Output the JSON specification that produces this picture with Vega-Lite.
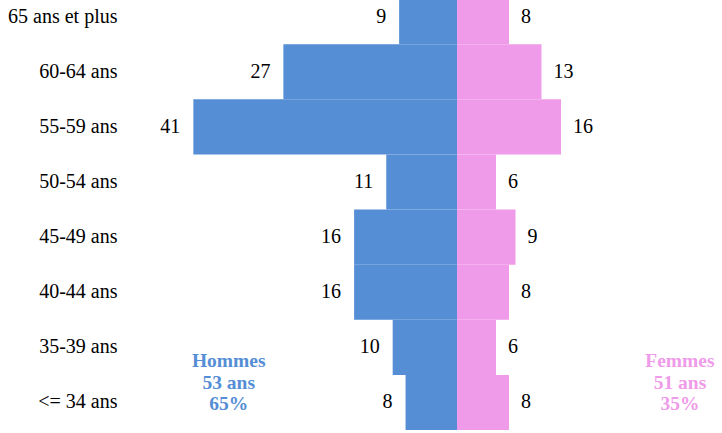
{
  "$schema": "https://vega.github.io/schema/vega-lite/v6.json",
  "width": 722,
  "height": 433,
  "autosize": "none",
  "padding": 0,
  "background": "white",
  "config": {"view": {"stroke": null}, "font": "Liberation Serif"},
  "data": {
    "values": [
      {"age": "65 ans et plus", "sex": "Hommes", "value": 9},
      {"age": "60-64 ans", "sex": "Hommes", "value": 27},
      {"age": "55-59 ans", "sex": "Hommes", "value": 41},
      {"age": "50-54 ans", "sex": "Hommes", "value": 11},
      {"age": "45-49 ans", "sex": "Hommes", "value": 16},
      {"age": "40-44 ans", "sex": "Hommes", "value": 16},
      {"age": "35-39 ans", "sex": "Hommes", "value": 10},
      {"age": "<= 34 ans", "sex": "Hommes", "value": 8},
      {"age": "65 ans et plus", "sex": "Femmes", "value": 8},
      {"age": "60-64 ans", "sex": "Femmes", "value": 13},
      {"age": "55-59 ans", "sex": "Femmes", "value": 16},
      {"age": "50-54 ans", "sex": "Femmes", "value": 6},
      {"age": "45-49 ans", "sex": "Femmes", "value": 9},
      {"age": "40-44 ans", "sex": "Femmes", "value": 8},
      {"age": "35-39 ans", "sex": "Femmes", "value": 6},
      {"age": "<= 34 ans", "sex": "Femmes", "value": 8}
    ]
  },
  "encoding": {
    "y": {
      "field": "age",
      "type": "nominal",
      "sort": ["65 ans et plus", "60-64 ans", "55-59 ans", "50-54 ans", "45-49 ans", "40-44 ans", "35-39 ans", "<= 34 ans"],
      "scale": {"range": [-11, 430], "paddingInner": 0, "paddingOuter": 0},
      "axis": {
        "title": null,
        "domain": false,
        "ticks": false,
        "labelPadding": 0,
        "offset": -117,
        "labelFont": "Liberation Serif",
        "labelFontSize": 20,
        "labelColor": "black",
        "labelLimit": 300
      }
    }
  },
  "layer": [
    {
      "encoding": {
        "x": {"field": "value", "type": "quantitative", "scale": {"domain": [0, 71.07], "range": [457, 0]}, "axis": null}
      },
      "layer": [
        {
          "transform": [{"filter": "datum.sex === 'Hommes'"}],
          "mark": {"type": "bar", "color": "#558ed5"}
        },
        {
          "transform": [{"filter": "datum.sex === 'Hommes'"}],
          "mark": {"type": "text", "align": "right", "baseline": "middle", "dx": -13, "fontSize": 20, "color": "black"},
          "encoding": {"text": {"field": "value", "type": "quantitative"}}
        },
        {
          "transform": [{"filter": "datum.sex === 'Hommes' && datum.age === '<= 34 ans'"}],
          "mark": {"type": "text", "align": "center", "baseline": "middle", "fontWeight": "bold", "fontSize": 19.5, "color": "#558ed5", "lineHeight": 21.7, "dy": -41.5},
          "encoding": {
            "x": {"datum": 35.5, "type": "quantitative"},
            "text": {"value": ["Hommes", "53 ans", "65%"]}
          }
        }
      ]
    },
    {
      "encoding": {
        "x": {"field": "value", "type": "quantitative", "scale": {"domain": [0, 40.77], "range": [457, 722]}, "axis": null}
      },
      "layer": [
        {
          "transform": [{"filter": "datum.sex === 'Femmes'"}],
          "mark": {"type": "bar", "color": "#ef9be9"}
        },
        {
          "transform": [{"filter": "datum.sex === 'Femmes'"}],
          "mark": {"type": "text", "align": "left", "baseline": "middle", "dx": 12, "fontSize": 20, "color": "black"},
          "encoding": {"text": {"field": "value", "type": "quantitative"}}
        },
        {
          "transform": [{"filter": "datum.sex === 'Femmes' && datum.age === '<= 34 ans'"}],
          "mark": {"type": "text", "align": "center", "baseline": "middle", "fontWeight": "bold", "fontSize": 19.5, "color": "#ef9be9", "lineHeight": 21.7, "dy": -41.5},
          "encoding": {
            "x": {"datum": 34.3, "type": "quantitative"},
            "text": {"value": ["Femmes", "51 ans", "35%"]}
          }
        }
      ]
    }
  ],
  "resolve": {"scale": {"x": "independent"}}
}
